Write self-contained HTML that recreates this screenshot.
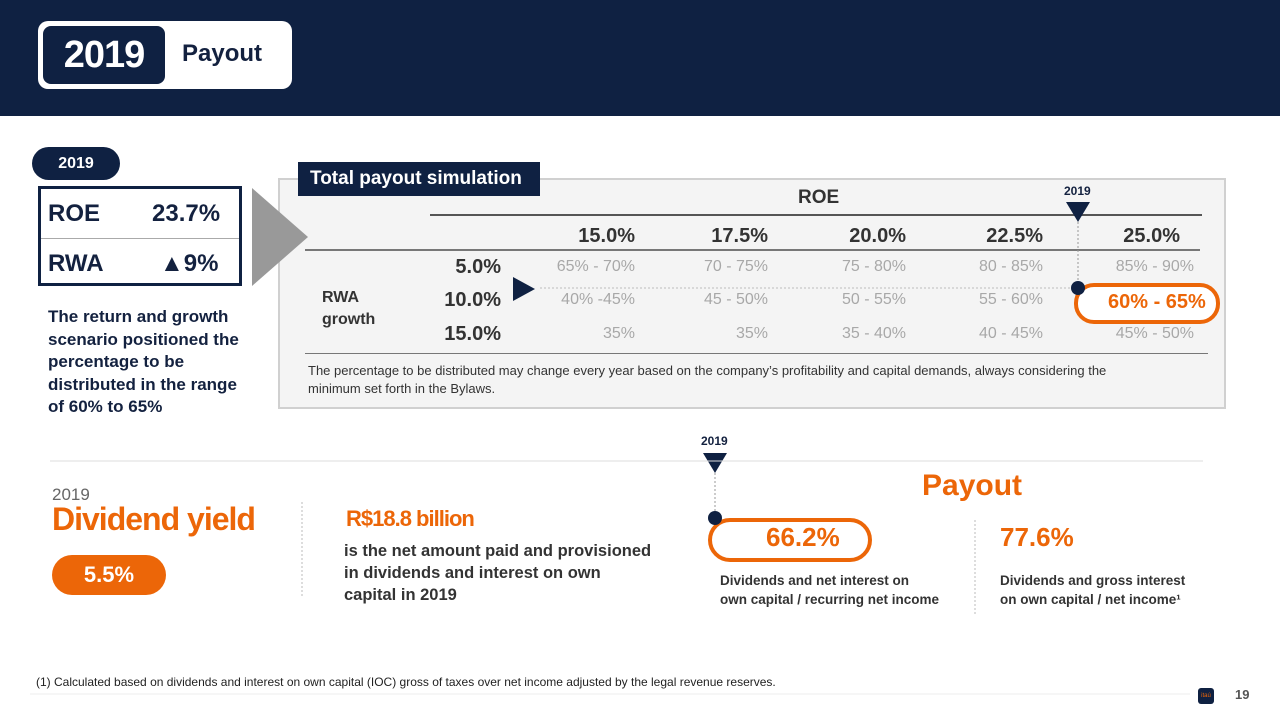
<!DOCTYPE html>
<html><head><meta charset="utf-8"><style>
*{margin:0;padding:0;box-sizing:border-box}
body{width:1280px;height:720px;position:relative;background:#fff;font-family:"Liberation Sans",sans-serif;overflow:hidden;color:#13213f}
.a{position:absolute;white-space:nowrap}
.b{font-weight:bold}
.r{text-align:right}
.g{color:#a8a8a8;font-size:16px}
.o{color:#ec6608}
</style></head><body>
<div class="a" style="left:0;top:0;width:1280px;height:116px;background:#0f2142"></div>
<div class="a" style="left:38px;top:21px;width:254px;height:68px;background:#fff;border-radius:10px"></div>
<div class="a b" style="left:43px;top:26px;width:122px;height:58px;background:#0f2142;border-radius:8px;color:#fff;font-size:38px;line-height:58px;text-align:center;letter-spacing:-1px">2019</div>
<div class="a b" style="left:182px;top:40px;font-size:24px">Payout</div>

<div class="a b" style="left:32px;top:147px;width:88px;height:33px;background:#0f2142;border-radius:17px;color:#fff;font-size:16px;line-height:33px;text-align:center">2019</div>
<div class="a" style="left:38px;top:186px;width:204px;height:100px;border:3px solid #0f2142"></div>
<div class="a" style="left:41px;top:238px;width:198px;height:1px;background:#aaa"></div>
<div class="a b" style="left:48px;top:200px;font-size:24px">ROE</div>
<div class="a b" style="left:152px;top:200px;font-size:24px">23.7%</div>
<div class="a b" style="left:48px;top:250px;font-size:24px">RWA</div>
<div class="a b" style="left:160px;top:250px;font-size:24px">&#9650;9%</div>
<div class="a b" style="left:48px;top:306px;font-size:17px;line-height:22.5px;white-space:normal;width:200px">The return and growth scenario positioned the percentage to be distributed in the range of 60% to 65%</div>

<div class="a" style="left:278px;top:178px;width:948px;height:231px;background:#f4f4f4;border:2px solid #d0d0d0"></div>
<svg class="a" style="left:252px;top:188px" width="58" height="100"><polygon points="0,0 56,49 0,98" fill="#999"/></svg>
<div class="a b" style="left:298px;top:162px;width:242px;height:34px;background:#0f2142;color:#fff;font-size:19px;line-height:34px;padding-left:12px">Total payout simulation</div>
<div class="a b" style="left:798px;top:187px;font-size:19px;color:#333">ROE</div>
<div class="a" style="left:430px;top:214px;width:772px;height:2px;background:#555"></div>
<div class="a" style="left:305px;top:249px;width:895px;height:2px;background:#777"></div>
<div class="a" style="left:305px;top:353px;width:903px;height:1px;background:#777"></div>
<div class="a b" style="left:322px;top:287px;font-size:16px;line-height:22px;color:#333;white-space:normal;width:70px">RWA growth</div>
<div id="grid"></div>
<svg class="a" style="left:0;top:0" width="1280" height="720">
<polygon points="513,277 535,289 513,301" fill="#0f2142"/>
<polygon points="1066,202 1090,202 1078,222" fill="#0f2142"/>
<line x1="1078" y1="222" x2="1078" y2="287" stroke="#999" stroke-dasharray="2,2"/>
<line x1="540" y1="288" x2="1078" y2="288" stroke="#bbb" stroke-dasharray="2,2"/>
<rect x="1076" y="285" width="142" height="37" rx="18" fill="#fff" stroke="#ec6608" stroke-width="4"/>
<circle cx="1078" cy="288" r="7" fill="#0f2142"/>
<polygon points="703,453 727,453 715,473" fill="#0f2142"/>
<line x1="50" y1="461" x2="1203" y2="461" stroke="#ddd"/>
<line x1="715" y1="473" x2="715" y2="517" stroke="#999" stroke-dasharray="2,2"/>
<rect x="710" y="520" width="160" height="40" rx="20" fill="#fff" stroke="#ec6608" stroke-width="4"/>
<circle cx="715" cy="518" r="7" fill="#0f2142"/>
<line x1="302" y1="502" x2="302" y2="596" stroke="#bbb" stroke-dasharray="2,2"/>
<line x1="975" y1="520" x2="975" y2="616" stroke="#bbb" stroke-dasharray="2,2"/>
<line x1="30" y1="694" x2="1190" y2="694" stroke="#eee"/>
</svg>
<div class="a b o" style="left:1108px;top:291px;font-size:20px">60% - 65%</div>
<div class="a b" style="left:1064px;top:184px;font-size:12px">2019</div>
<div class="a" style="left:308px;top:362px;font-size:13px;line-height:18px;color:#333">The percentage to be distributed may change every year based on the company’s profitability and capital demands, always considering the<br>minimum set forth in the Bylaws.</div>

<div class="a b" style="left:701px;top:434px;font-size:12px">2019</div>
<div class="a" style="left:52px;top:485px;font-size:17px;color:#666">2019</div>
<div class="a b o" style="left:52px;top:501px;font-size:32px;letter-spacing:-1px">Dividend yield</div>
<div class="a b" style="left:52px;top:555px;width:114px;height:40px;border-radius:20px;background:#ec6608;color:#fff;font-size:22px;line-height:40px;text-align:center">5.5%</div>
<div class="a b o" style="left:346px;top:506px;font-size:22px;letter-spacing:-1px">R$18.8 billion</div>
<div class="a b" style="left:344px;top:540px;font-size:16.5px;line-height:22px;color:#333">is the net amount paid and provisioned<br>in dividends and interest on own<br>capital in 2019</div>
<div class="a b o" style="left:922px;top:469px;font-size:30px">Payout</div>
<div class="a b o" style="left:766px;top:522px;font-size:26px">66.2%</div>
<div class="a b o" style="left:1000px;top:522px;font-size:26px">77.6%</div>
<div class="a b" style="left:720px;top:571px;font-size:13.5px;line-height:19px;color:#333">Dividends and net interest on<br>own capital / recurring net income</div>
<div class="a b" style="left:1000px;top:571px;font-size:13.5px;line-height:19px;color:#333">Dividends and gross interest<br>on own capital / net income¹</div>
<div class="a" style="left:36px;top:675px;font-size:12px;color:#222">(1) Calculated based on dividends and interest on own capital (IOC) gross of taxes over net income adjusted by the legal revenue reserves.</div>
<div class="a" style="left:1198px;top:688px;width:16px;height:16px;background:#0f2142;border-radius:3px;color:#ec6608;font-size:6px;text-align:center;line-height:16px">itaú</div>
<div class="a b" style="left:1235px;top:687px;font-size:13px;color:#555">19</div>
<script>
const roeCols=["15.0%","17.5%","20.0%","22.5%","25.0%"];
const rwaRows=["5.0%","10.0%","15.0%"];
const payoutCells=[["65% - 70%","70 - 75%","75 - 80%","80 - 85%","85% - 90%"],["40% -45%","45 - 50%","50 - 55%","55 - 60%","60% - 65%"],["35%","35%","35 - 40%","40 - 45%","45% - 50%"]];
const colRight=[635,768,906,1043,1194];
const rowTop=[258,291,325];
const grid=document.getElementById('grid');
roeCols.forEach((c,i)=>{const d=document.createElement('div');


d.className='a b r';d.style.cssText=`left:${colRight[i]-(i==4?14:0)-100}px;top:225px;width:100px;font-size:20px;color:#333`;d.textContent=c;grid.appendChild(d);});
rwaRows.forEach((r,j)=>{const d=document.createElement('div');


d.className='a b r';d.style.cssText=`left:401px;top:${rowTop[j]-2}px;width:100px;font-size:20px;color:#333`;d.textContent=r;grid.appendChild(d);
payoutCells[j].forEach((v,i)=>{if(j==1&&i==4)return;const c=document.createElement('div');


c.className='a g r';c.style.cssText=`left:${colRight[i]-120}px;top:${rowTop[j]}px;width:120px`;c.textContent=v;grid.appendChild(c);});});
</script>
</body></html>
